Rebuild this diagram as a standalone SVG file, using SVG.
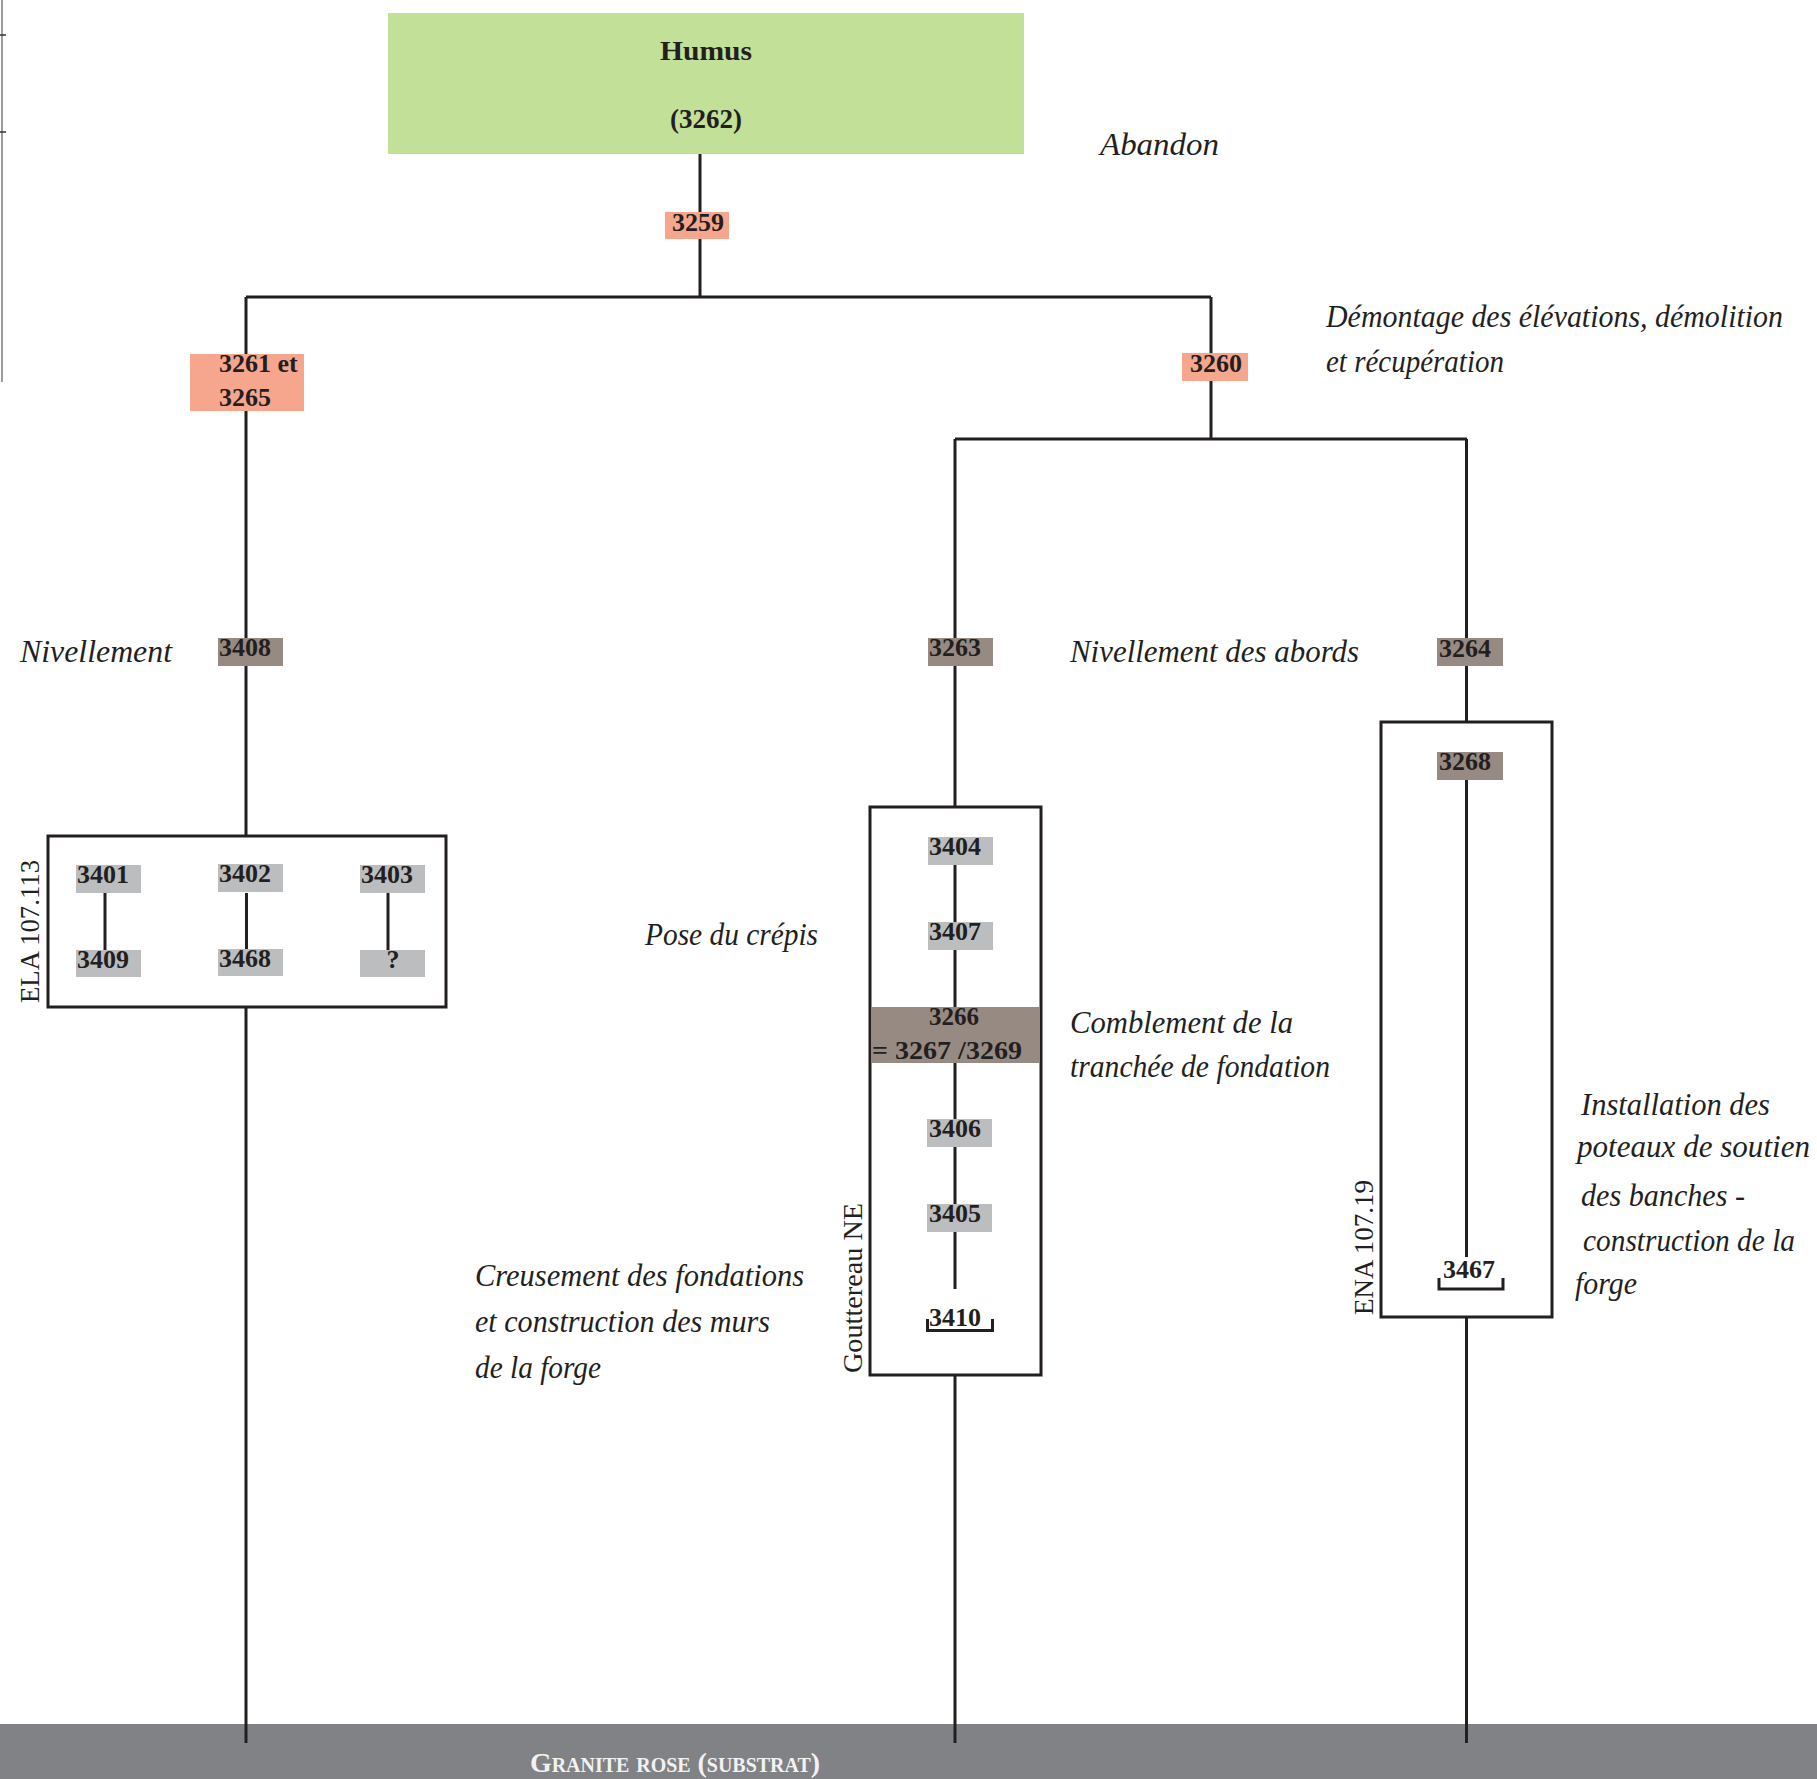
<svg xmlns="http://www.w3.org/2000/svg" width="1817" height="1779" viewBox="0 0 1817 1779">
<style>
.ln{stroke:#231f20;stroke-width:3;fill:none}
.bx{stroke:#231f20;stroke-width:3;fill:none}
.num{font-family:"Liberation Serif",serif;font-weight:bold;font-size:26px;fill:#231f20}
.it{font-family:"Liberation Serif",serif;font-style:italic;font-size:31px;fill:#231f20}
.rot{font-family:"Liberation Serif",serif;font-size:27px;fill:#231f20}
.sal{fill:#f7a68e}
.brn{fill:#978a82}
.gry{fill:#bcbdbf}
</style>
<rect width="1817" height="1779" fill="#ffffff"/>
<g id="edge">
<line x1="2" y1="0" x2="2" y2="382" stroke="#9b9ba1" stroke-width="2"/>
<line x1="0" y1="35" x2="6" y2="35" stroke="#333" stroke-width="1.5"/>
<line x1="0" y1="132" x2="6" y2="132" stroke="#333" stroke-width="1.5"/>
</g>
<g id="substrat">
<rect x="0" y="1724" width="1817" height="55" fill="#818285"/>
<text x="530" y="1772" textLength="290" lengthAdjust="spacingAndGlyphs" style="font-family:'Liberation Serif',serif;font-weight:bold;font-size:28px;font-variant:small-caps;fill:#f2f2f2">Granite rose (substrat)</text>
</g>
<g id="connectors" class="ln">
<path d="M700,154 V297"/>
<path d="M246,297 H1211"/>
<path d="M246,297 V836"/>
<path d="M105,893 V950"/>
<path d="M246.5,893 V949"/>
<path d="M388,893 V950"/>
<path d="M246,1007 V1743"/>
<path d="M1211,297 V439"/>
<path d="M955,439 H1467"/>
<path d="M955,439 V807"/>
<path d="M955,865 V1289"/>
<path d="M955,1375 V1743"/>
<path d="M1466.5,439 V722"/>
<path d="M1466.5,752 V1257"/>
<path d="M1466.5,1317 V1743"/>
</g>
<g id="humus">
<rect x="388" y="13" width="636" height="141" fill="#c2e098"/>
<text class="num" x="706" y="60" text-anchor="middle" style="font-size:27px" textLength="92" lengthAdjust="spacingAndGlyphs">Humus</text>
<text class="num" x="706" y="128" text-anchor="middle" style="font-size:27px">(3262)</text>
</g>
<g id="n3259"><rect class="sal" x="665" y="212" width="64" height="27"/><text class="num" x="672" y="231">3259</text></g>
<g id="n3261"><rect class="sal" x="190" y="354" width="114" height="57"/><text class="num" x="219" y="372">3261 et</text><text class="num" x="219" y="406">3265</text></g>
<g id="n3260"><rect class="sal" x="1182" y="353" width="66" height="28"/><text class="num" x="1190" y="372">3260</text></g>
<g id="n3408"><rect class="brn" x="218" y="638" width="65" height="28"/><text class="num" x="219" y="656">3408</text></g>
<g id="n3263"><rect class="brn" x="928" y="638" width="65" height="28"/><text class="num" x="929" y="656">3263</text></g>
<g id="n3264"><rect class="brn" x="1437" y="638" width="66" height="28"/><text class="num" x="1439" y="657">3264</text></g>
<g id="ela">
<rect class="bx" x="48" y="836" width="398" height="171"/>
<text class="rot" transform="translate(39,1003) rotate(-90)" textLength="143" lengthAdjust="spacingAndGlyphs">ELA 107.113</text>
</g>
<g id="n3401"><rect class="gry" x="76" y="865" width="65" height="28"/><text class="num" x="77" y="883">3401</text></g>
<g id="n3402"><rect class="gry" x="218" y="864" width="65" height="28"/><text class="num" x="219" y="882">3402</text></g>
<g id="n3403"><rect class="gry" x="360" y="865" width="65" height="28"/><text class="num" x="361" y="883">3403</text></g>
<g id="n3409"><rect class="gry" x="76" y="950" width="65" height="27"/><text class="num" x="77" y="968">3409</text></g>
<g id="n3468"><rect class="gry" x="218" y="949" width="65" height="27"/><text class="num" x="219" y="967">3468</text></g>
<g id="nq"><rect class="gry" x="360" y="950" width="65" height="27"/><text class="num" x="393" y="968" text-anchor="middle">?</text></g>
<g id="gouttereau">
<rect class="bx" x="870" y="807" width="171" height="568"/>
<text class="rot" transform="translate(862,1373) rotate(-90)" textLength="170" lengthAdjust="spacingAndGlyphs">Gouttereau NE</text>
</g>
<g id="n3404"><rect class="gry" x="928" y="837" width="65" height="28"/><text class="num" x="929" y="855">3404</text></g>
<g id="n3407"><rect class="gry" x="928" y="922" width="65" height="28"/><text class="num" x="929" y="940">3407</text></g>
<g id="n3266"><rect class="brn" x="871" y="1007" width="169" height="56"/><text class="num" x="954" y="1025" text-anchor="middle" style="font-size:25px">3266</text><text class="num" x="872" y="1059" style="font-size:25px" textLength="150" lengthAdjust="spacingAndGlyphs">= 3267 /3269</text></g>
<g id="n3406"><rect class="gry" x="927" y="1119" width="65" height="28"/><text class="num" x="929" y="1137">3406</text></g>
<g id="n3405"><rect class="gry" x="927" y="1204" width="65" height="28"/><text class="num" x="929" y="1222">3405</text></g>
<g id="n3410"><text class="num" x="929" y="1326">3410</text><path class="ln" d="M927.5,1319 V1330.5 H992.5 V1319" stroke-width="2.5"/></g>
<g id="ena">
<rect class="bx" x="1381" y="722" width="171" height="595"/>
<text class="rot" transform="translate(1373,1315) rotate(-90)" textLength="135" lengthAdjust="spacingAndGlyphs">ENA 107.19</text>
</g>
<g id="n3268"><rect class="brn" x="1437" y="752" width="66" height="28"/><text class="num" x="1439" y="770">3268</text></g>
<g id="n3467"><text class="num" x="1443" y="1278">3467</text><path class="ln" d="M1439,1278 V1289 H1503 V1278" stroke-width="2.5"/></g>
<g id="phases">
<text class="it" x="1100" y="155" textLength="119" lengthAdjust="spacingAndGlyphs">Abandon</text>
<text class="it" x="1326" y="327" textLength="457" lengthAdjust="spacingAndGlyphs">Démontage des élévations, démolition</text>
<text class="it" x="1326" y="372" textLength="178" lengthAdjust="spacingAndGlyphs">et récupération</text>
<text class="it" x="20" y="662" textLength="152" lengthAdjust="spacingAndGlyphs">Nivellement</text>
<text class="it" x="1070" y="662" textLength="289" lengthAdjust="spacingAndGlyphs">Nivellement des abords</text>
<text class="it" x="645" y="945" textLength="173" lengthAdjust="spacingAndGlyphs">Pose du crépis</text>
<text class="it" x="1070" y="1033" textLength="223" lengthAdjust="spacingAndGlyphs">Comblement de la</text>
<text class="it" x="1070" y="1077" textLength="260" lengthAdjust="spacingAndGlyphs">tranchée de fondation</text>
<text class="it" x="475" y="1286" textLength="329" lengthAdjust="spacingAndGlyphs">Creusement des fondations</text>
<text class="it" x="475" y="1332" textLength="295" lengthAdjust="spacingAndGlyphs">et construction des murs</text>
<text class="it" x="475" y="1378" textLength="126" lengthAdjust="spacingAndGlyphs">de la forge</text>
<text class="it" x="1581" y="1115" textLength="189" lengthAdjust="spacingAndGlyphs">Installation des</text>
<text class="it" x="1577" y="1157" textLength="233" lengthAdjust="spacingAndGlyphs">poteaux de soutien</text>
<text class="it" x="1581" y="1206" textLength="164" lengthAdjust="spacingAndGlyphs">des banches -</text>
<text class="it" x="1583" y="1251" textLength="212" lengthAdjust="spacingAndGlyphs">construction de la</text>
<text class="it" x="1575" y="1294" textLength="62" lengthAdjust="spacingAndGlyphs">forge</text>
</g>
</svg>
